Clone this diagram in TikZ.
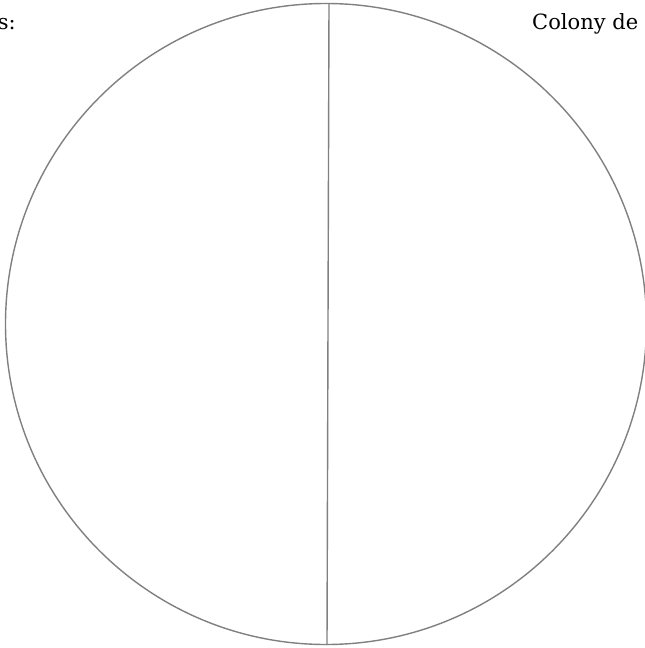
\documentclass[tikz,border=0pt]{standalone}
\usepackage{fontspec}
\setmainfont{DejaVu Serif}
\begin{document}
\begin{tikzpicture}[x=1pt,y=-1pt,
  outline/.style={draw=black!50,line width=1.4pt},
  lbl/.style={font=\fontsize{21}{24}\selectfont,text=black,inner sep=0pt}]
\useasboundingbox (0,0) rectangle (645,648);
\clip (0,0) rectangle (645,648);
\fill[white] (0,0) rectangle (645,648);
\node[outline,circle,minimum size=641pt,inner sep=0pt] (c) at (326,324) {};
\coordinate (top) at (329,3);
\coordinate (bot) at (327,645);
\draw[outline] (top) -- (bot);
\node[lbl,anchor=base east] (l) at (16,29) {s:};
\node[lbl,anchor=base west] (r) at (532,29) {Colony de};
\end{tikzpicture}
\end{document}
